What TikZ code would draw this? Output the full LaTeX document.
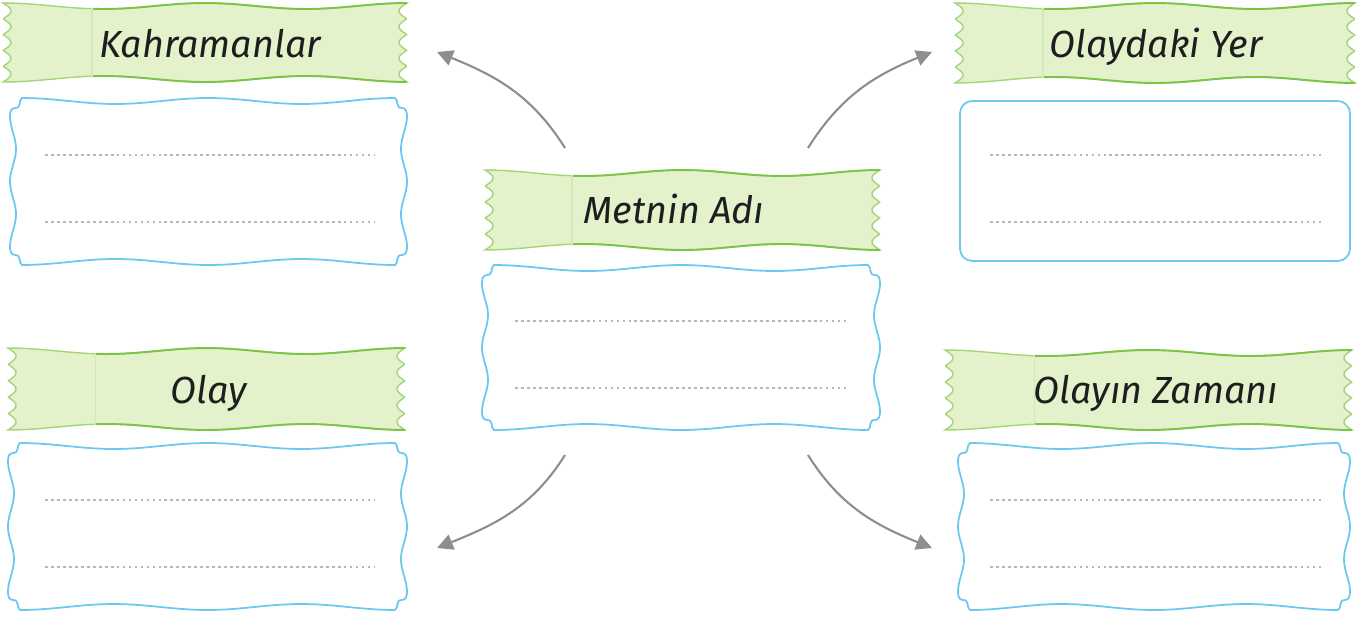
\documentclass[tikz,border=0pt]{standalone}
\usepackage{fontspec}
\setmainfont{Fira Sans}
\usetikzlibrary{arrows.meta}
\definecolor{yesilAcik}{HTML}{E3F2CB}
\definecolor{yesilKenar}{HTML}{A5D47B}
\definecolor{yesilKoyu}{HTML}{7CC447}
\definecolor{yesilKat}{HTML}{D2E8B6}
\definecolor{mavi}{HTML}{6DC8F0}
\definecolor{griNokta}{HTML}{B8B8B8}
\definecolor{griOk}{HTML}{8E8E8E}
\definecolor{siyah}{HTML}{1E1E1E}
\begin{document}
\begin{tikzpicture}[x=0.02cm,y=-0.02cm]
    \tikzstyle{seritA}= [fill=yesilAcik, draw=yesilKenar, line width=0.8pt]
    \tikzstyle{seritB}= [draw=yesilKoyu, line width=1.1pt]
    \tikzstyle{kutuA}= [draw=mavi, line width=1pt, fill=white]
    \tikzstyle{noktali}= [griNokta, line width=1.6pt, dash pattern=on 1.6pt off 1.8pt]
    \tikzstyle{okA}= [griOk, line width=1.2pt, -{Triangle[length=9pt,width=9pt]}]
    \tikzstyle{baslik}= [font=\fontsize{21.5}{25}\selectfont\itshape, text=siyah, anchor=base, inner sep=0pt]

  \useasboundingbox (0,0) rectangle (1366,619);

  % yesil serit: dalgali ust/alt, disli yanlar
  \def\serit(#1,#2,#3,#4){
    \filldraw[seritA] plot[domain=0:1,samples=41,variable=\t] ({#1+(#3-#1)*\t},{#2+3*(1-cos(720*\t))})
      -- plot[domain=0:1,samples=73,variable=\t] ({#3-8*abs(sin(900*\t))},{#2+(#4-#2)*\t})
      -- plot[domain=1:0,samples=41,variable=\t] ({#1+(#3-#1)*\t},{#4-3*(1-cos(720*\t))})
      -- plot[domain=1:0,samples=73,variable=\t] ({#1+8*abs(sin(900*\t))},{#2+(#4-#2)*\t}) -- cycle;
    \draw[seritB] plot[domain=0.22:1,samples=33,variable=\t] ({#1+(#3-#1)*\t},{#2+3*(1-cos(720*\t))});
    \draw[seritB] plot[domain=0.22:1,samples=33,variable=\t] ({#1+(#3-#1)*\t},{#4-3*(1-cos(720*\t))});
    \draw[yesilKat, line width=0.8pt] ({#1+0.22*(#3-#1)},{#2+5}) -- ({#1+0.22*(#3-#1)},{#4-5});
  }

  % mavi kutu: dalgali kenar, kivrik koseler
  \def\kutu(#1,#2,#3,#4){
    \draw[kutuA] ({#1+12},{#2})
      -- plot[domain=0:1,samples=41,variable=\t] ({#1+12+(#3-#1-24)*\t},{#2+3*(1-cos(720*\t))})
      .. controls ({#3-8},{#2+2}) and ({#3-12},{#2+10}) .. ({#3-5},{#2+10})
      .. controls ({#3-1},{#2+10}) and ({#3},{#2+14}) .. ({#3},{#2+18})
      -- plot[domain=0:1,samples=41,variable=\t] ({#3-3*(1-cos(720*\t))},{#2+18+(#4-#2-36)*\t})
      .. controls ({#3},{#4-14}) and ({#3-1},{#4-10}) .. ({#3-5},{#4-10})
      .. controls ({#3-12},{#4-10}) and ({#3-8},{#4-2}) .. ({#3-12},{#4})
      -- plot[domain=1:0,samples=41,variable=\t] ({#1+12+(#3-#1-24)*\t},{#4-3*(1-cos(720*\t))})
      .. controls ({#1+8},{#4-2}) and ({#1+12},{#4-10}) .. ({#1+5},{#4-10})
      .. controls ({#1+1},{#4-10}) and ({#1},{#4-14}) .. ({#1},{#4-18})
      -- plot[domain=1:0,samples=41,variable=\t] ({#1+3*(1-cos(720*\t))},{#2+18+(#4-#2-36)*\t})
      .. controls ({#1},{#2+14}) and ({#1+1},{#2+10}) .. ({#1+5},{#2+10})
      .. controls ({#1+12},{#2+10}) and ({#1+8},{#2+2}) .. ({#1+12},{#2}) -- cycle;
  }

  \foreach \a/\b/\c/\d in {3/3/407/82, 955/3/1355/83, 485/170/880/250, 8/348/405/430, 945/350/1352/430}
    \serit(\a,\b,\c,\d);

  \foreach \a/\b/\c/\d in {10/98/407/265, 482/265/880/430, 8/443/407/610, 958/443/1350/610}
    \kutu(\a,\b,\c,\d);
  \draw[kutuA, rounded corners=7pt] (960,101) rectangle (1350,261);

  \foreach \xa/\xb/\y in {45/375/155, 45/375/222, 990/1322/155, 990/1322/222, 515/848/321, 515/848/388,
                          45/375/500, 45/375/567, 990/1322/500, 990/1322/567}
    \draw[noktali] (\xa,\y) -- (\xb,\y);

  \node[baslik] (kahr) at (210,57) {Kahramanlar};
  \node[baslik] (yer) at (1156,57) {Olaydaki Yer};
  \node[baslik] (metin) at (674,223) {Metnin Adı};
  \node[baslik] (olay) at (209,403) {Olay};
  \node[baslik] (zaman) at (1156,403) {Olayın Zamanı};

  \coordinate (sK) at (565,148);
  \coordinate (sY) at (808,148);
  \coordinate (sO) at (565,455);
  \coordinate (sZ) at (808,455);
  \coordinate (uK) at (437,52);
  \coordinate (uY) at (932,52);
  \coordinate (uO) at (437,548);
  \coordinate (uZ) at (932,548);

  \draw[okA] (sK) to[out=122,in=-22] (uK);
  \draw[okA] (sY) to[out=58,in=202] (uY);
  \draw[okA] (sO) to[out=238,in=22] (uO);
  \draw[okA] (sZ) to[out=-58,in=158] (uZ);

\end{tikzpicture}
\end{document}
